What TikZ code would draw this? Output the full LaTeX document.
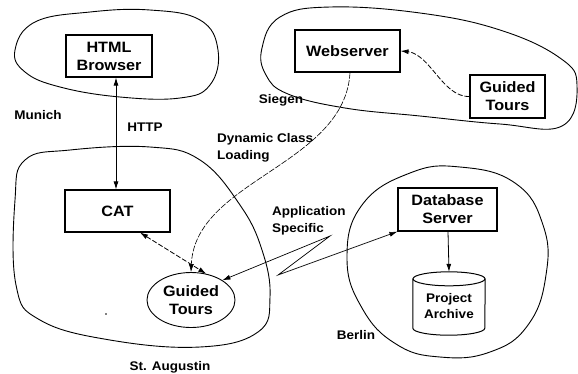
\documentclass[tikz,border=0pt]{standalone}
\usepackage{fontspec}
\setmainfont{Liberation Sans}[FakeStretch=1.08]
\usetikzlibrary{arrows.meta,shapes.geometric,calc}
\begin{document}
\begin{tikzpicture}[x=1pt,y=-1pt,
  box/.style={draw,line width=1.1pt,inner sep=0pt,align=center,font=\fontsize{15}{18}\selectfont\bfseries},
  lbl/.style={inner sep=0pt,align=left,font=\fontsize{12.5}{17}\selectfont\bfseries},
  blob/.style={draw,line width=0.9pt},
  arr/.style={line width=0.8pt,-{Latex[length=8pt,width=5pt]}},
  darr/.style={line width=0.8pt,{Latex[length=8pt,width=5pt]}-{Latex[length=8pt,width=5pt]}},
  dsh/.style={dash pattern=on 5pt off 2pt}]
\useasboundingbox (0,0) rectangle (578,373);
% region blobs
\draw[blob] plot[smooth cycle,tension=0.7] coordinates{(15,50) (35,22) (90,12) (150,10) (200,20) (218,50) (210,85) (180,98) (120,97) (60,87) (25,72)};
\draw[blob] plot[smooth cycle,tension=0.7] coordinates{(262,48) (280,17) (330,7) (420,13) (500,30) (560,58) (577,85) (562,126) (500,124) (420,116) (345,108) (288,94) (266,75)};
\draw[blob] plot[smooth cycle,tension=0.7] coordinates{(15,200) (25,160) (70,150) (150,147) (200,160) (240,205) (262,250) (270,297) (258,332) (200,347) (110,340) (40,320) (16,285)};
\draw[blob] plot[smooth cycle,tension=0.75] coordinates{(347,258) (362,205) (410,173) (460,167) (515,183) (543,225) (546,275) (528,325) (490,352) (440,357) (396,344) (362,308)};
% nodes
\node[box,minimum width=86,minimum height=42] (html) at (109,56) {HTML\\Browser};
\node[box,minimum width=105,minimum height=42] (web) at (347.5,51) {Webserver};
\node[box,minimum width=75,minimum height=43] (gts) at (507.5,96.5) {Guided\\Tours};
\node[box,minimum width=105,minimum height=42] (cat) at (117.5,211) {CAT};
\node[box,ellipse,line width=0.9pt,minimum width=88,minimum height=55] (gt) at (191,300) {Guided\\Tours};
\node[box,minimum width=99,minimum height=43] (db) at (447.5,209.5) {Database\\Server};
\node[inner sep=0pt,minimum width=72,minimum height=63,align=center,font=\fontsize{12.5}{16}\selectfont\bfseries] (arch) at (449,303.5) {\\[-2pt]Project\\Archive};
\draw[line width=1pt] ([yshift=-7pt]arch.north) ellipse [x radius=36pt,y radius=7pt];
\draw[line width=1pt] ([yshift=-7pt]arch.north west) -- ([yshift=7pt]arch.south west) arc[start angle=180,end angle=360,x radius=36pt,y radius=7pt] -- ([yshift=-7pt]arch.north east);
% labels
\node[lbl] (munich) at (38,115) {Munich};
\node[lbl] (http) at (145,127) {HTTP};
\node[lbl] (siegen) at (281,100) {Siegen};
\node[lbl,anchor=west] (dcl) at (217,148) {Dynamic Class\\Loading};
\node[lbl,anchor=west] (aps) at (272,221) {Application\\Specific};
\node[lbl] (staug) at (170,367) {St. Augustin};
\node[lbl] (berlin) at (356,335) {Berlin};
\fill (106,314) circle (0.9pt);
% connectors
\draw[darr] (html.south -| 116,0) -- (cat.north -| 116,0);
\draw[darr,dsh] (cat.south -| 140,0) -- (gt.60);
\draw[arr,dsh] (gts.west) .. controls (452,97) and (440,78) .. (430,67) .. controls (420,55) and (412,52) .. (web.east);
\draw[arr,dash pattern=on 6pt off 1.5pt,line width=0.6pt] (web.south -| 350,0) .. controls (345,165) and (195,180) .. (gt.north);
\coordinate (z1) at (330,236);
\coordinate (z2) at (278,275);
\draw[darr,line width=0.7pt] (gt.north east) -- (z1) -- (z2) -- (db.south west);
\draw[arr] (db.south -| 448,0) -- (arch.north);
\end{tikzpicture}
\end{document}
